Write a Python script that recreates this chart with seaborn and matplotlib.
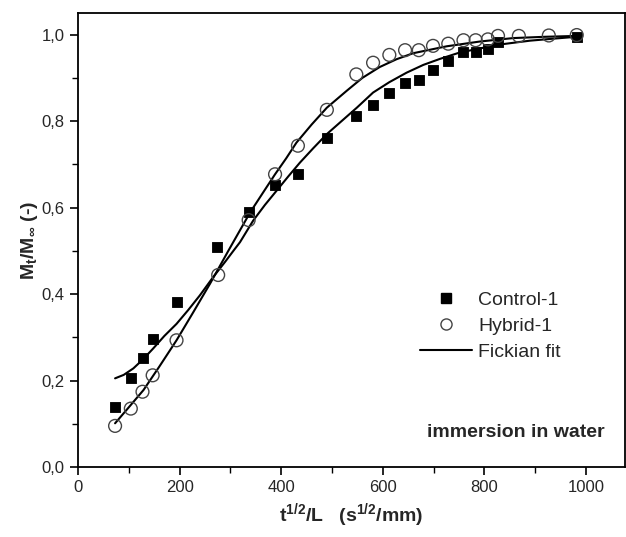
import numpy as np
import pandas as pd
import matplotlib
matplotlib.use("Agg")
import matplotlib.pyplot as plt
from matplotlib.ticker import MultipleLocator, FuncFormatter
from matplotlib.lines import Line2D
import seaborn as sns

control_x = [73, 104, 127, 147, 194, 273, 336, 388, 433, 490, 548, 581, 613, 644, 671,
             699, 729, 759, 783, 807, 827, 982]
control_y = [0.139, 0.206, 0.251, 0.295, 0.381, 0.508, 0.590, 0.653, 0.678, 0.760, 0.811,
             0.838, 0.864, 0.887, 0.896, 0.919, 0.940, 0.960, 0.960, 0.967, 0.983, 0.995]
hybrid_x = [73, 104, 127, 147, 194, 276, 336, 388, 433, 490, 548, 581, 613, 644, 671,
            699, 729, 759, 783, 807, 827, 868, 927, 982]
hybrid_y = [0.095, 0.135, 0.174, 0.212, 0.293, 0.444, 0.571, 0.677, 0.743, 0.826, 0.908,
            0.935, 0.953, 0.964, 0.964, 0.974, 0.979, 0.987, 0.987, 0.989, 0.997, 0.997,
            0.998, 0.999]

# fickian fit curves
fit_c_x = [73, 90, 109, 128, 148, 170, 194, 217, 240, 266, 290, 306, 319, 345, 368, 391,
           414, 437, 463, 490, 519, 549, 581, 613, 647, 680, 713, 750, 791, 830, 890,
           940, 982]
fit_c_y = [0.205, 0.213, 0.228, 0.249, 0.274, 0.303, 0.331, 0.363, 0.397, 0.439, 0.475,
           0.500, 0.520, 0.570, 0.606, 0.639, 0.672, 0.704, 0.737, 0.770, 0.800, 0.831,
           0.866, 0.890, 0.912, 0.930, 0.944, 0.958, 0.968, 0.977, 0.986, 0.991, 0.995]
fit_h_x = [73, 100, 129, 160, 194, 227, 260, 296, 339, 364, 388, 410, 430, 460, 490, 529,
           560, 594, 627, 660, 726, 791, 857, 920, 982]
fit_h_y = [0.101, 0.138, 0.178, 0.232, 0.293, 0.358, 0.424, 0.500, 0.589, 0.634, 0.677,
           0.714, 0.750, 0.792, 0.831, 0.870, 0.900, 0.925, 0.943, 0.957, 0.973, 0.984,
           0.992, 0.995, 0.997]

sns.set_style("ticks")
plt.rcParams['font.family'] = ['Liberation Sans', 'DejaVu Sans']
plt.rcParams['mathtext.fontset'] = 'custom'
plt.rcParams['mathtext.rm'] = 'Liberation Sans:bold'
plt.rcParams['mathtext.it'] = 'Liberation Sans:bold'
plt.rcParams['mathtext.bf'] = 'Liberation Sans:bold'

control = pd.DataFrame({"x": control_x, "y": control_y})
hybrid = pd.DataFrame({"x": hybrid_x, "y": hybrid_y})
fit_c = pd.DataFrame({"x": fit_c_x, "y": fit_c_y})
fit_h = pd.DataFrame({"x": fit_h_x, "y": fit_h_y})

fig, ax = plt.subplots(figsize=(6.26, 5.37), dpi=100)
fig.subplots_adjust(left=0.1246, right=0.9984, top=0.9758, bottom=0.1304)

sns.lineplot(data=fit_c, x="x", y="y", ax=ax, color="black", lw=1.5, sort=False)
sns.lineplot(data=fit_h, x="x", y="y", ax=ax, color="black", lw=1.5, sort=False)
sns.scatterplot(data=control, x="x", y="y", ax=ax, marker="s", s=60, color="black",
                edgecolor="black", zorder=3)
sns.scatterplot(data=hybrid, x="x", y="y", ax=ax, marker="o", s=85, facecolor="none",
                edgecolor="#444444", linewidth=1.0, zorder=4)

ax.set_xlim(0, 1077)
ax.set_ylim(0, 1.05)
ax.xaxis.set_major_locator(MultipleLocator(200))
ax.xaxis.set_minor_locator(MultipleLocator(100))
ax.yaxis.set_major_locator(MultipleLocator(0.2))
ax.yaxis.set_minor_locator(MultipleLocator(0.1))
ax.yaxis.set_major_formatter(FuncFormatter(lambda v, p: f"{v:.1f}".replace(".", ",")))
ax.tick_params(which="major", direction="out", length=6, width=1.2, labelsize=12, color="black")
ax.tick_params(which="minor", direction="out", length=4, width=1.0, color="black")
for sp in ax.spines.values():
    sp.set_linewidth(1.3)
    sp.set_color("black")

ax.set_xlabel(r"t$^{1/2}$/L   (s$^{1/2}$/mm)", fontsize=14, fontweight="bold")
ax.set_ylabel(r"M$_t$/M$_\infty$ (-)", fontsize=14, fontweight="bold", labelpad=1)

ax.text(0.963, 0.077, "immersion in water", transform=ax.transAxes, ha="right",
        va="center", fontsize=14, fontweight="bold")

handles = [
    Line2D([], [], marker="s", ls="none", color="black", markersize=7),
    Line2D([], [], marker="o", ls="none", markerfacecolor="none",
           markeredgecolor="#444444", markersize=8),
    Line2D([], [], color="black", lw=1.5),
]
ax.legend(handles, ["Control-1", "Hybrid-1", "Fickian fit"], loc="center left",
          bbox_to_anchor=(0.611, 0.31), borderaxespad=0, frameon=False, fontsize=14,
          handlelength=2.7, labelspacing=0.42, handletextpad=0.3)

fig.savefig("out.png", dpi=100)
